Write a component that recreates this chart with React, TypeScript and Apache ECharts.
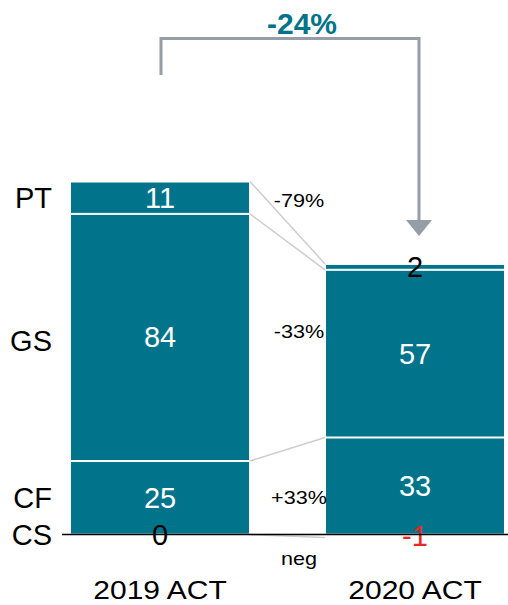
import React, { useEffect, useRef } from "react";
import * as echarts from "echarts";

// ---------- data ----------
const categories = ["2019 ACT", "2020 ACT"];
const segmentNames = ["CS", "CF", "GS", "PT"];
const csValues = [0, -1];
const cfValues = [25, 33];
const gsValues = [84, 57];
const ptValues = [11, 2];
const changeLabels = ["neg", "+33%", "-33%", "-79%"];
const totalChangeLabel = "-24%";

// ---------- style ----------
const TEAL = "#01738a";
const ARROW = "#959ea6";
const CONNECTOR = "#cdcdcd";
const RED = "#e8291f";
const FONT = "'Liberation Sans', Arial, Helvetica, sans-serif";
const BAR_WIDTH = 180;
const BIG = 29;
const SMALL = 18;
const CAT_SIZE = 25;
// small pixel nudges for side texts (CS, CF, GS, PT)
const nameNudge = [0, 0, 4, 0];
const changeNudge = [24, 0, -6, 3];

const seriesValues = [csValues, cfValues, gsValues, ptValues];

// stack extents per bar, per segment: [bottom, top]
function stackExtents(barIndex: number) {
  let pos = 0;
  let neg = 0;
  return seriesValues.map((vals) => {
    const v = vals[barIndex];
    if (v >= 0) {
      const b = pos;
      pos += v;
      return [b, pos];
    }
    const t = neg;
    neg += v;
    return [neg, t];
  });
}

export default function App() {
  const ref = useRef<HTMLDivElement>(null);

  useEffect(() => {
    if (!ref.current) return;
    const chart = echarts.init(ref.current, undefined, { renderer: "svg" });

    const ext0 = stackExtents(0);
    const ext1 = stackExtents(1);
    const total0 = ext0[ext0.length - 1][1];
    const total1 = ext1[ext1.length - 1][1];

    // connector pairs (2019 boundary, 2020 boundary), unique
    const connectors: number[][] = [];
    const seen = new Set<string>();
    for (let i = 0; i < seriesValues.length; i++) {
      for (let k = 0; k < 2; k++) {
        const pair = [ext0[i][k], ext1[i][k]];
        const key = pair.join("|");
        if (!seen.has(key)) {
          seen.add(key);
          connectors.push(pair);
        }
      }
    }

    const labelColor = (si: number, bi: number) => {
      if (si === 0) return bi === 0 ? "#000" : RED;
      if (si === 3 && bi === 1) return "#000";
      return "#fff";
    };

    const barSeries = seriesValues.map((vals, si) => ({
      type: "bar",
      name: segmentNames[si],
      stack: "total",
      barWidth: BAR_WIDTH,
      z: 2,
      itemStyle: {
        color: si === 0 ? "transparent" : TEAL,
        borderColor: si === 0 ? "transparent" : "#fff",
        borderWidth: si === 0 ? 0 : 1,
      },
      data: vals.map((v, bi) => ({
        value: v,
        label: {
          show: true,
          position: "inside",
          color: labelColor(si, bi),
          fontSize: BIG,
          fontFamily: FONT,
          formatter: () => String(v),
        },
      })),
    }));

    const option: any = {
      animation: false,
      grid: { left: 32.5, right: -34.5, top: 5, height: 559, outerBoundsMode: "none", containLabel: false },
      xAxis: {
        type: "category",
        data: categories,
        axisTick: { show: false },
        axisLine: { show: false, onZero: false },
        axisLabel: { show: false },
      },
      yAxis: { type: "value", min: -10, max: 180, show: false },
      series: [
        ...barSeries,
        {
          type: "custom",
          name: "connectors",
          clip: false,
          z: 1,
          silent: true,
          data: connectors,
          renderItem: (_p: any, api: any) => {
            const a = api.coord([0, api.value(0)]);
            const b = api.coord([1, api.value(1)]);
            return {
              type: "line",
              shape: { x1: a[0] + BAR_WIDTH / 2, y1: a[1], x2: b[0] - BAR_WIDTH / 2, y2: b[1] },
              style: { stroke: CONNECTOR, lineWidth: 1.5 },
            };
          },
        },
        {
          type: "custom",
          name: "baseline",
          clip: false,
          z: 6,
          silent: true,
          data: [[0]],
          renderItem: (_p: any, api: any) => {
            const a = api.coord([0, 0]);
            return {
              type: "line",
              shape: { x1: a[0] - BAR_WIDTH / 2 - 8, y1: a[1], x2: api.getWidth(), y2: a[1] },
              style: { stroke: "#000", lineWidth: 1.5 },
            };
          },
        },
        {
          type: "custom",
          name: "categoryLabels",
          clip: false,
          z: 7,
          silent: true,
          data: categories.map((_, i) => [i]),
          renderItem: (params: any, api: any) => {
            const i = params.dataIndex;
            const p = api.coord([i, 0]);
            return {
              type: "text",
              x: p[0],
              y: p[1] + 56,
              scaleX: 1.2,
              style: {
                x: 0,
                y: 0,
                text: categories[i],
                align: "center",
                verticalAlign: "middle",
                fontSize: CAT_SIZE,
                fontFamily: FONT,
                fill: "#000",
              },
            };
          },
        },
        {
          type: "custom",
          name: "sideLabels",
          clip: false,
          z: 7,
          silent: true,
          data: segmentNames.map((_, i) => [i]),
          renderItem: (params: any, api: any) => {
            const i = params.dataIndex;
            const mid = (ext0[i][0] + ext0[i][1]) / 2;
            const p = api.coord([0, mid]);
            const q = api.coord([1, mid]);
            const leftEdge = p[0] - BAR_WIDTH / 2;
            const bar2Left = q[0] - BAR_WIDTH / 2;
            const cx = bar2Left - 26;
            const cy = p[1] + changeNudge[i];
            return {
              type: "group",
              children: [
                {
                  type: "text",
                  style: {
                    x: leftEdge - 18,
                    y: p[1] + nameNudge[i],
                    text: segmentNames[i],
                    align: "right",
                    verticalAlign: "middle",
                    fontSize: BIG,
                    fontFamily: FONT,
                    fill: "#000",
                  },
                },
                {
                  type: "text",
                  x: cx,
                  y: cy,
                  scaleX: 1.2,
                  style: {
                    x: 0,
                    y: 0,
                    text: changeLabels[i],
                    align: "center",
                    verticalAlign: "middle",
                    fontSize: SMALL,
                    fontFamily: FONT,
                    fill: "#000",
                  },
                },
              ],
            };
          },
        },
        {
          type: "custom",
          name: "bracket",
          clip: false,
          z: 7,
          silent: true,
          data: [[0]],
          renderItem: (_p: any, api: any) => {
            const a = api.coord([0, total0]);
            const b = api.coord([1, total1]);
            const lx = a[0] + 1;
            const rx = b[0] + 4;
            const topY = 38.5;
            const startY = 75;
            const tipY = b[1] - 28;
            const headH = 16;
            return {
              type: "group",
              children: [
                {
                  type: "polyline",
                  shape: { points: [[lx, startY], [lx, topY], [rx, topY], [rx, tipY - headH]] },
                  style: { stroke: ARROW, lineWidth: 3, fill: "none" },
                },
                {
                  type: "polygon",
                  shape: { points: [[rx - 13, tipY - headH], [rx + 13, tipY - headH], [rx, tipY]] },
                  style: { fill: ARROW },
                },
                {
                  type: "text",
                  style: {
                    x: (lx + rx) / 2 + 12,
                    y: 23,
                    text: totalChangeLabel,
                    align: "center",
                    verticalAlign: "middle",
                    fontSize: 30,
                    fontWeight: "bold",
                    fontFamily: FONT,
                    fill: TEAL,
                  },
                },
              ],
            };
          },
        },
      ],
    };

    chart.setOption(option);
    return () => chart.dispose();
  }, []);

  return (
    <div
      ref={ref}
      style={{ position: "fixed", left: 0, top: 0, width: 508, height: 605, background: "#fff" }}
    />
  );
}
